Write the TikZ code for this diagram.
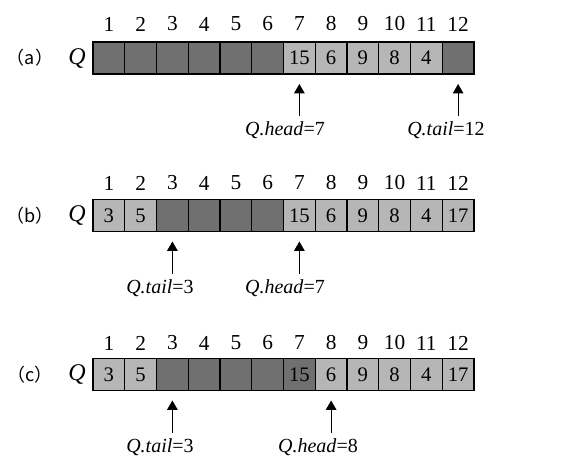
\documentclass[tikz,border=0pt]{standalone}
\usepackage{fontspec}
\setmainfont{Liberation Serif}
\newfontfamily\cjk{Noto Sans CJK SC}
\usetikzlibrary{shapes,arrows}
\usetikzlibrary{calc}
\definecolor{darkcell}{RGB}{112,112,112}
\definecolor{lightcell}{RGB}{182,182,182}

\begin{document}
\begin{tikzpicture}[x=0.75pt,y=-0.75pt]

\tikzstyle{cell} = [draw=black, line width=0.8, minimum width=23.8pt, minimum height=24pt,
inner sep=0, outer sep=0, font=\fontsize{15.5}{15.5}\selectfont]
\tikzstyle{idx} = [font=\fontsize{16}{16}\selectfont]
\tikzstyle{ptr} = [inner sep=1pt, font=\fontsize{15}{15}\selectfont]
\tikzstyle{rowlbl} = [font=\cjk\fontsize{13.5}{13.5}\selectfont]
\tikzstyle{qname} = [font=\itshape\fontsize{18}{18}\selectfont]
\tikzstyle{ptr_arrow} = [-triangle 60, line width=0.9, shorten <=3pt, shorten >=7.5pt]

\useasboundingbox (0,0) rectangle (582,471);

% (a)
\node[rowlbl] (la) at (30,58) {（a）};
\node[qname] (qa) at (77,58) {Q};
\foreach \i/\v/\c in {1/{}/darkcell,2/{}/darkcell,3/{}/darkcell,4/{}/darkcell,5/{}/darkcell,6/{}/darkcell,
  7/15/lightcell,8/6/lightcell,9/9/lightcell,10/8/lightcell,11/4/lightcell,12/{}/darkcell}
{
  \node[cell, fill=\c] (a\i) at ({93+(\i-0.5)*31.75},58) {\v};
  \node[idx] (na\i) at ({93+(\i-0.5)*31.75},24) {\i};
}
\node[ptr] (ahead) at (285,130) {\textit{Q.head}=7};
\node[ptr] (atail) at (446,130) {\textit{Q.tail}=12};
\draw[ptr_arrow] (ahead.north -| a7) -- (a7.south);
\draw[ptr_arrow] (atail.north -| a12) -- (a12.south);

% (b)
\node[rowlbl] (lb) at (30,215.5) {（b）};
\node[qname] (qb) at (77,215.5) {Q};
\foreach \i/\v/\c in {1/3/lightcell,2/5/lightcell,3/{}/darkcell,4/{}/darkcell,5/{}/darkcell,6/{}/darkcell,
  7/15/lightcell,8/6/lightcell,9/9/lightcell,10/8/lightcell,11/4/lightcell,12/17/lightcell}
{
  \node[cell, fill=\c] (b\i) at ({93+(\i-0.5)*31.75},215.5) {\v};
  \node[idx] (nb\i) at ({93+(\i-0.5)*31.75},183) {\i};
}
\node[ptr] (btail) at (160,288) {\textit{Q.tail}=3};
\node[ptr] (bhead) at (285,288) {\textit{Q.head}=7};
\draw[ptr_arrow] (btail.north -| b3) -- (b3.south);
\draw[ptr_arrow] (bhead.north -| b7) -- (b7.south);

% (c)
\node[rowlbl] (lc) at (30,374.5) {（c）};
\node[qname] (qc) at (77,374.5) {Q};
\foreach \i/\v/\c in {1/3/lightcell,2/5/lightcell,3/{}/darkcell,4/{}/darkcell,5/{}/darkcell,6/{}/darkcell,
  7/15/darkcell,8/6/lightcell,9/9/lightcell,10/8/lightcell,11/4/lightcell,12/17/lightcell}
{
  \node[cell, fill=\c] (c\i) at ({93+(\i-0.5)*31.75},374.5) {\v};
  \node[idx] (nc\i) at ({93+(\i-0.5)*31.75},343) {\i};
}
\node[ptr] (ctail) at (160,447) {\textit{Q.tail}=3};
\node[ptr] (chead) at (318,447) {\textit{Q.head}=8};
\draw[ptr_arrow] (ctail.north -| c3) -- (c3.south);
\draw[ptr_arrow] (chead.north -| c8) -- (c8.south);

\end{tikzpicture}
\end{document}
